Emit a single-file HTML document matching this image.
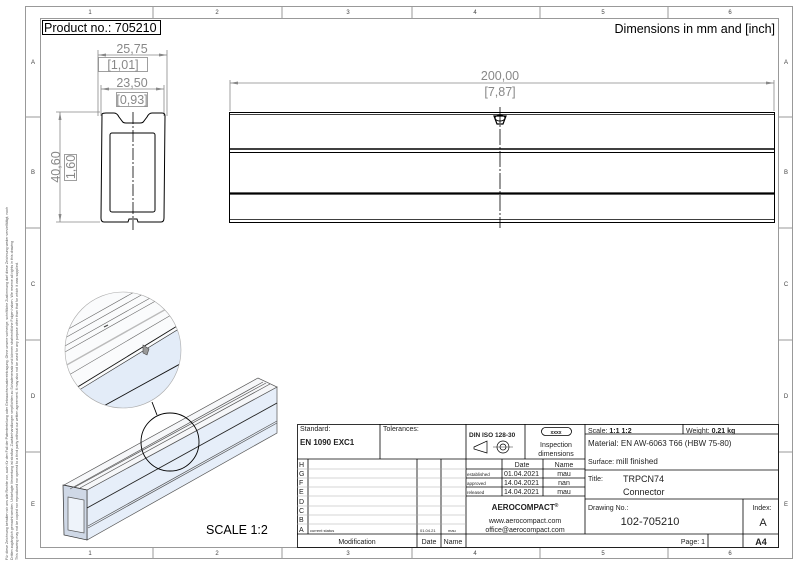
<!DOCTYPE html>
<html><head><meta charset="utf-8"><style>
html,body{margin:0;padding:0;background:#fff}
svg{display:block}
text{font-family:"Liberation Sans",sans-serif}
</style></head><body>
<svg width="800" height="566" viewBox="0 0 800 566" xmlns="http://www.w3.org/2000/svg">
<rect width="800" height="566" fill="#fff"/>
<rect x="25.5" y="6.5" width="767" height="552" fill="none" stroke="#999" stroke-width="1"/>
<rect x="40.5" y="18.5" width="738" height="529" fill="none" stroke="#999" stroke-width="1"/>
<g stroke="#999" stroke-width="1">
<line x1="153" y1="6" x2="153" y2="18"/><line x1="282" y1="6" x2="282" y2="18"/><line x1="412" y1="6" x2="412" y2="18"/><line x1="540" y1="6" x2="540" y2="18"/><line x1="668" y1="6" x2="668" y2="18"/>
<line x1="153" y1="547" x2="153" y2="558"/><line x1="282" y1="547" x2="282" y2="558"/><line x1="412" y1="547" x2="412" y2="558"/><line x1="540" y1="547" x2="540" y2="558"/><line x1="668" y1="547" x2="668" y2="558"/>
<line x1="25" y1="117" x2="40" y2="117"/><line x1="25" y1="228" x2="40" y2="228"/><line x1="25" y1="340" x2="40" y2="340"/><line x1="25" y1="452" x2="40" y2="452"/>
<line x1="778" y1="117" x2="792" y2="117"/><line x1="778" y1="228" x2="792" y2="228"/><line x1="778" y1="340" x2="792" y2="340"/><line x1="778" y1="452" x2="792" y2="452"/>
</g>
<g font-size="6" fill="#444" text-anchor="middle">
<text x="90" y="14">1</text><text x="217" y="14">2</text><text x="348" y="14">3</text><text x="475" y="14">4</text><text x="603" y="14">5</text><text x="730" y="14">6</text>
<text x="90" y="555">1</text><text x="217" y="555">2</text><text x="348" y="555">3</text><text x="475" y="555">4</text><text x="603" y="555">5</text><text x="730" y="555">6</text>
<text x="33" y="64">A</text><text x="33" y="174">B</text><text x="33" y="286">C</text><text x="33" y="398">D</text><text x="33" y="506">E</text>
<text x="786" y="64">A</text><text x="786" y="174">B</text><text x="786" y="286">C</text><text x="786" y="398">D</text><text x="786" y="506">E</text>
</g>
<g font-size="3.6" fill="#555">
<text transform="translate(8,560) rotate(-90)">Für diese Zeichnung behalten wir uns alle Rechte vor, auch für den Fall der Patenterteilung oder Gebrauchsmustereintragung. Ohne unsere vorherige, schriftliche Zustimmung darf diese Zeichnung weder vervielfältigt, noch</text>
<text transform="translate(13,560) rotate(-90)">Dritten zugänglich gemacht werden. Unbefugte Verwertung ist strafbar. Zuwiderhandlungen verpflichten zu Schadenersatz und können strafrechtliche Folgen haben. We reserve all rights in this drawing</text>
<text transform="translate(18,560) rotate(-90)">This drawing may not be copied nor reproduced nor opened to a third party without our written agreement. It may also not be used for any purpose other than that for which it was supplied.</text>
</g>
<rect x="42.5" y="20.5" width="118" height="14" fill="none" stroke="#000" stroke-width="1"/>
<text x="44" y="32" font-size="12.5" fill="#000">Product no.: 705210</text>
<text x="775" y="33" font-size="12.5" fill="#000" text-anchor="end">Dimensions in mm and [inch]</text>

<g stroke="#888" stroke-width="0.8" fill="none">
<line x1="98" y1="50" x2="98" y2="116"/><line x1="167" y1="50" x2="167" y2="116"/>
<line x1="98" y1="55" x2="167" y2="55"/>
<line x1="101" y1="85" x2="101" y2="116"/><line x1="164" y1="85" x2="164" y2="116"/>
<line x1="101" y1="89" x2="164" y2="89"/>
<line x1="56" y1="112" x2="100" y2="112"/><line x1="56" y1="222" x2="100" y2="222"/>
<line x1="60" y1="112" x2="60" y2="222"/>
<rect x="98.5" y="57.5" width="49" height="14"/><rect x="116.5" y="92.5" width="31" height="14" />
<rect x="64.5" y="154.5" width="12" height="26"/>
</g>
<path d="M98 55 l8 -1.5 v3z M167 55 l-8 -1.5 v3z M101 89 l8 -1.5 v3z M164 89 l-8 -1.5 v3z M60 112 l-1.5 8 h3z M60 222 l-1.5 -8 h3z" fill="#888"/>
<g fill="#888" font-size="12.5" text-anchor="middle">
<text x="132" y="53">25,75</text><text x="123" y="69">[1,01]</text>
<text x="132" y="87">23,50</text><text x="132" y="104">[0,93]</text>
<text transform="translate(60,167) rotate(-90)">40,60</text>
<text transform="translate(75,167) rotate(-90)">1,60</text>
</g>
<g stroke="#000" stroke-width="1" fill="none">
<path d="M102 114 Q103 113 106 113 L114 113 Q117 113 119 117 L122 121 Q123 123 126 123 L140 123 Q143 123 144 121 L147 117 Q149 113 152 113 L162 113 Q165 113 165 116 L164 218 Q164 222 161 222 L138 222 L137 219 L129 219 L128 222 L104 222 Q101 222 101 218 Z"/>
<rect x="110" y="133" width="45" height="79" rx="2"/>
<line x1="133" y1="112" x2="133" y2="230" stroke-dasharray="12 2 2 2" stroke-width="0.8"/>
</g>

<g stroke="#888" stroke-width="0.8">
<line x1="230" y1="80" x2="230" y2="111"/><line x1="774" y1="80" x2="774" y2="111"/>
<line x1="230" y1="83" x2="774" y2="83"/>
</g>
<path d="M230 83 l8 -1.5 v3z M774 83 l-8 -1.5 v3z" fill="#888"/>
<text x="500" y="80" font-size="12.5" fill="#888" text-anchor="middle">200,00</text>
<text x="500" y="96" font-size="12.5" fill="#888" text-anchor="middle">[7,87]</text>
<g stroke="#000" fill="none">
<rect x="229.5" y="112.5" width="545" height="110" stroke-width="1"/>
<line x1="230" y1="114.5" x2="774" y2="114.5" stroke-width="0.8"/>
<line x1="230" y1="149" x2="774" y2="149" stroke-width="1.4"/>
<line x1="230" y1="152.5" x2="774" y2="152.5" stroke-width="1"/>
<line x1="230" y1="193.5" x2="774" y2="193.5" stroke-width="2.2"/>
<line x1="230" y1="219.5" x2="774" y2="219.5" stroke-width="0.8"/>
<line x1="500" y1="107" x2="500" y2="228" stroke-dasharray="16 2 2 2" stroke-width="0.8"/>
<path d="M494 116 L506 116 L503 124 L497 124 Z" stroke-width="1.2"/>
<ellipse cx="500" cy="118" rx="5" ry="3" stroke-width="1"/>
</g>

<g stroke="#555" stroke-width="0.7">
<polygon points="87,490 277,387 277,433 87,540" fill="#e6eef9"/>
<polygon points="64,485 258,378 277,387 87,490" fill="#f6f7f9"/>
<polygon points="63,485 87,490 87,540 64,535" fill="#cfd8e6" stroke="#333"/>
<polygon points="68,497 84,500 84,533 68,530" fill="#eef3fa"/>
<line x1="70" y1="489" x2="263" y2="382"/><line x1="75" y1="487" x2="266" y2="383"/>
<line x1="80" y1="488" x2="270" y2="384"/>
<line x1="87" y1="508" x2="277" y2="403" stroke="#222" stroke-width="0.9"/>
<line x1="88" y1="526" x2="277" y2="421"/><line x1="88" y1="528" x2="277" y2="423"/>
</g>
<circle cx="170" cy="442" r="29" fill="none" stroke="#000" stroke-width="0.9"/>
<line x1="152" y1="402" x2="157" y2="415" stroke="#000" stroke-width="0.9"/>
<defs><clipPath id="c"><circle cx="123" cy="350" r="58"/></clipPath></defs>
<g clip-path="url(#c)">
<rect x="60" y="290" width="130" height="120" fill="#fafbfc"/>
<polygon points="40,414 200,316 200,420 40,420" fill="#e3ecf8"/>
<g stroke="#666" stroke-width="0.6">
<line x1="40" y1="345" x2="200" y2="255"/><line x1="40" y1="352" x2="200" y2="262"/>
<line x1="40" y1="360" x2="200" y2="270"/><line x1="40" y1="366" x2="200" y2="276"/>
<line x1="40" y1="380" x2="200" y2="290" stroke="#bbb" stroke-width="1.5"/>
<line x1="40" y1="392" x2="200" y2="298"/>
<line x1="40" y1="410" x2="200" y2="312" stroke="#111" stroke-width="0.9"/>
<line x1="40" y1="414" x2="200" y2="316" stroke="#333"/>
<line x1="40" y1="441" x2="200" y2="353" stroke="#111" stroke-width="0.9"/>
</g>
<path d="M143 345 l6 4 l-2 6 l-4 -2 z" fill="#999" stroke="#444" stroke-width="0.6"/>
<path d="M104 327 l4 -2" stroke="#444" stroke-width="1.2"/>
</g>
<circle cx="123" cy="350" r="58" fill="none" stroke="#aaa" stroke-width="0.6"/>
<text x="206" y="534" font-size="12.5" fill="#000">SCALE 1:2</text>

<g stroke="#000" stroke-width="0.8" fill="none">
<rect x="297.5" y="424.5" width="481" height="123"/>
<line x1="297" y1="459" x2="585" y2="459"/>
<line x1="380" y1="424" x2="380" y2="459"/>
<line x1="466" y1="424" x2="466" y2="547"/>
<line x1="525" y1="424" x2="525" y2="459"/>
<line x1="585" y1="424" x2="585" y2="534"/>
<line x1="297" y1="534" x2="778" y2="534"/>
<line x1="308" y1="459" x2="308" y2="534"/>
<line x1="417" y1="459" x2="417" y2="547"/>
<line x1="441" y1="459" x2="441" y2="547"/>
<line x1="466" y1="469" x2="585" y2="469"/><line x1="466" y1="478" x2="585" y2="478"/><line x1="466" y1="487" x2="585" y2="487"/><line x1="466" y1="496" x2="585" y2="496"/>
<line x1="502" y1="459" x2="502" y2="496"/><line x1="543" y1="459" x2="543" y2="496"/>
<line x1="585" y1="434" x2="778" y2="434"/>
<line x1="683" y1="424" x2="683" y2="434"/>
<line x1="585" y1="470" x2="778" y2="470"/>
<line x1="585" y1="499" x2="778" y2="499"/>
<line x1="743" y1="499" x2="743" y2="547"/>
<line x1="708" y1="534" x2="708" y2="547"/>
<rect x="541.5" y="427.5" width="30" height="8" rx="4"/>
</g>
<g stroke="#aaa" stroke-width="0.5">
<line x1="297" y1="469" x2="466" y2="469"/><line x1="297" y1="478" x2="466" y2="478"/><line x1="297" y1="487" x2="466" y2="487"/><line x1="297" y1="496" x2="466" y2="496"/><line x1="297" y1="506" x2="466" y2="506"/><line x1="297" y1="515" x2="466" y2="515"/><line x1="297" y1="524" x2="466" y2="524"/>
</g>
<g stroke="#000" stroke-width="0.7" fill="none">
<path d="M474 447 L487 441 L487 453 L474 449 Z"/>
<circle cx="503" cy="447" r="6"/><circle cx="503" cy="447" r="3"/>
<line x1="493" y1="447" x2="513" y2="447" stroke-width="0.4"/>
</g>
<g font-size="7" fill="#222">
<text x="300" y="431">Standard:</text>
<text x="383" y="431">Tolerances:</text>
<text x="300" y="445" font-weight="bold" font-size="8">EN 1090 EXC1</text>
<text x="469" y="437" font-weight="bold" font-size="6.5">DIN ISO 128-30</text>
<text x="556" y="434" text-anchor="middle" font-size="5" font-weight="bold">xxxx</text>
<text x="556" y="447" text-anchor="middle">Inspection</text>
<text x="556" y="456" text-anchor="middle">dimensions</text>
<text x="588" y="433">Scale:  <tspan font-weight="bold">1:1   1:2</tspan></text>
<text x="686" y="433">Weight:  <tspan font-weight="bold">0.21 kg</tspan></text>
<text x="588" y="446" font-size="8">Material:  EN AW-6063 T66 (HBW 75-80)</text>
<text x="588" y="464">Surface:  <tspan font-size="8">mill finished</tspan></text>
<text x="588" y="481">Title:</text>
<text x="623" y="482" font-size="9">TRPCN74</text>
<text x="623" y="495" font-size="9">Connector</text>
<text x="588" y="510">Drawing No.:</text>
<text x="650" y="525" font-size="11" text-anchor="middle">102-705210</text>
<text x="762" y="510" text-anchor="middle">Index:</text>
<text x="763" y="526" font-size="11" text-anchor="middle">A</text>
<text x="705" y="544" text-anchor="end">Page: 1</text>
<text x="761" y="545" font-weight="bold" font-size="9" text-anchor="middle">A4</text>
<text x="522" y="467" text-anchor="middle">Date</text><text x="564" y="467" text-anchor="middle">Name</text>
<text x="467" y="476" font-size="4.5">established</text><text x="504" y="476">01.04.2021</text><text x="564" y="476" text-anchor="middle">mau</text>
<text x="467" y="485" font-size="4.5">approved</text><text x="504" y="485">14.04.2021</text><text x="564" y="485" text-anchor="middle">nan</text>
<text x="467" y="494" font-size="4.5">released</text><text x="504" y="494">14.04.2021</text><text x="564" y="494" text-anchor="middle">mau</text>
<text x="525" y="510" text-anchor="middle" font-weight="bold" font-size="8">AEROCOMPACT<tspan font-size="5" dy="-3">®</tspan></text>
<text x="525" y="523" text-anchor="middle">www.aerocompact.com</text>
<text x="525" y="532" text-anchor="middle">office@aerocompact.com</text>
<text x="357" y="544" text-anchor="middle">Modification</text>
<text x="429" y="544" text-anchor="middle">Date</text><text x="453" y="544" text-anchor="middle">Name</text>
<text x="299" y="467">H</text><text x="299" y="476">G</text><text x="299" y="485">F</text><text x="299" y="494">E</text><text x="299" y="504">D</text><text x="299" y="513">C</text><text x="299" y="522">B</text><text x="299" y="532">A</text>
<text x="310" y="532" font-size="4">current status</text>
<text x="420" y="532" font-size="4">01.04.21</text><text x="448" y="532" font-size="4">mau</text>
</g>
</svg>
</body></html>
